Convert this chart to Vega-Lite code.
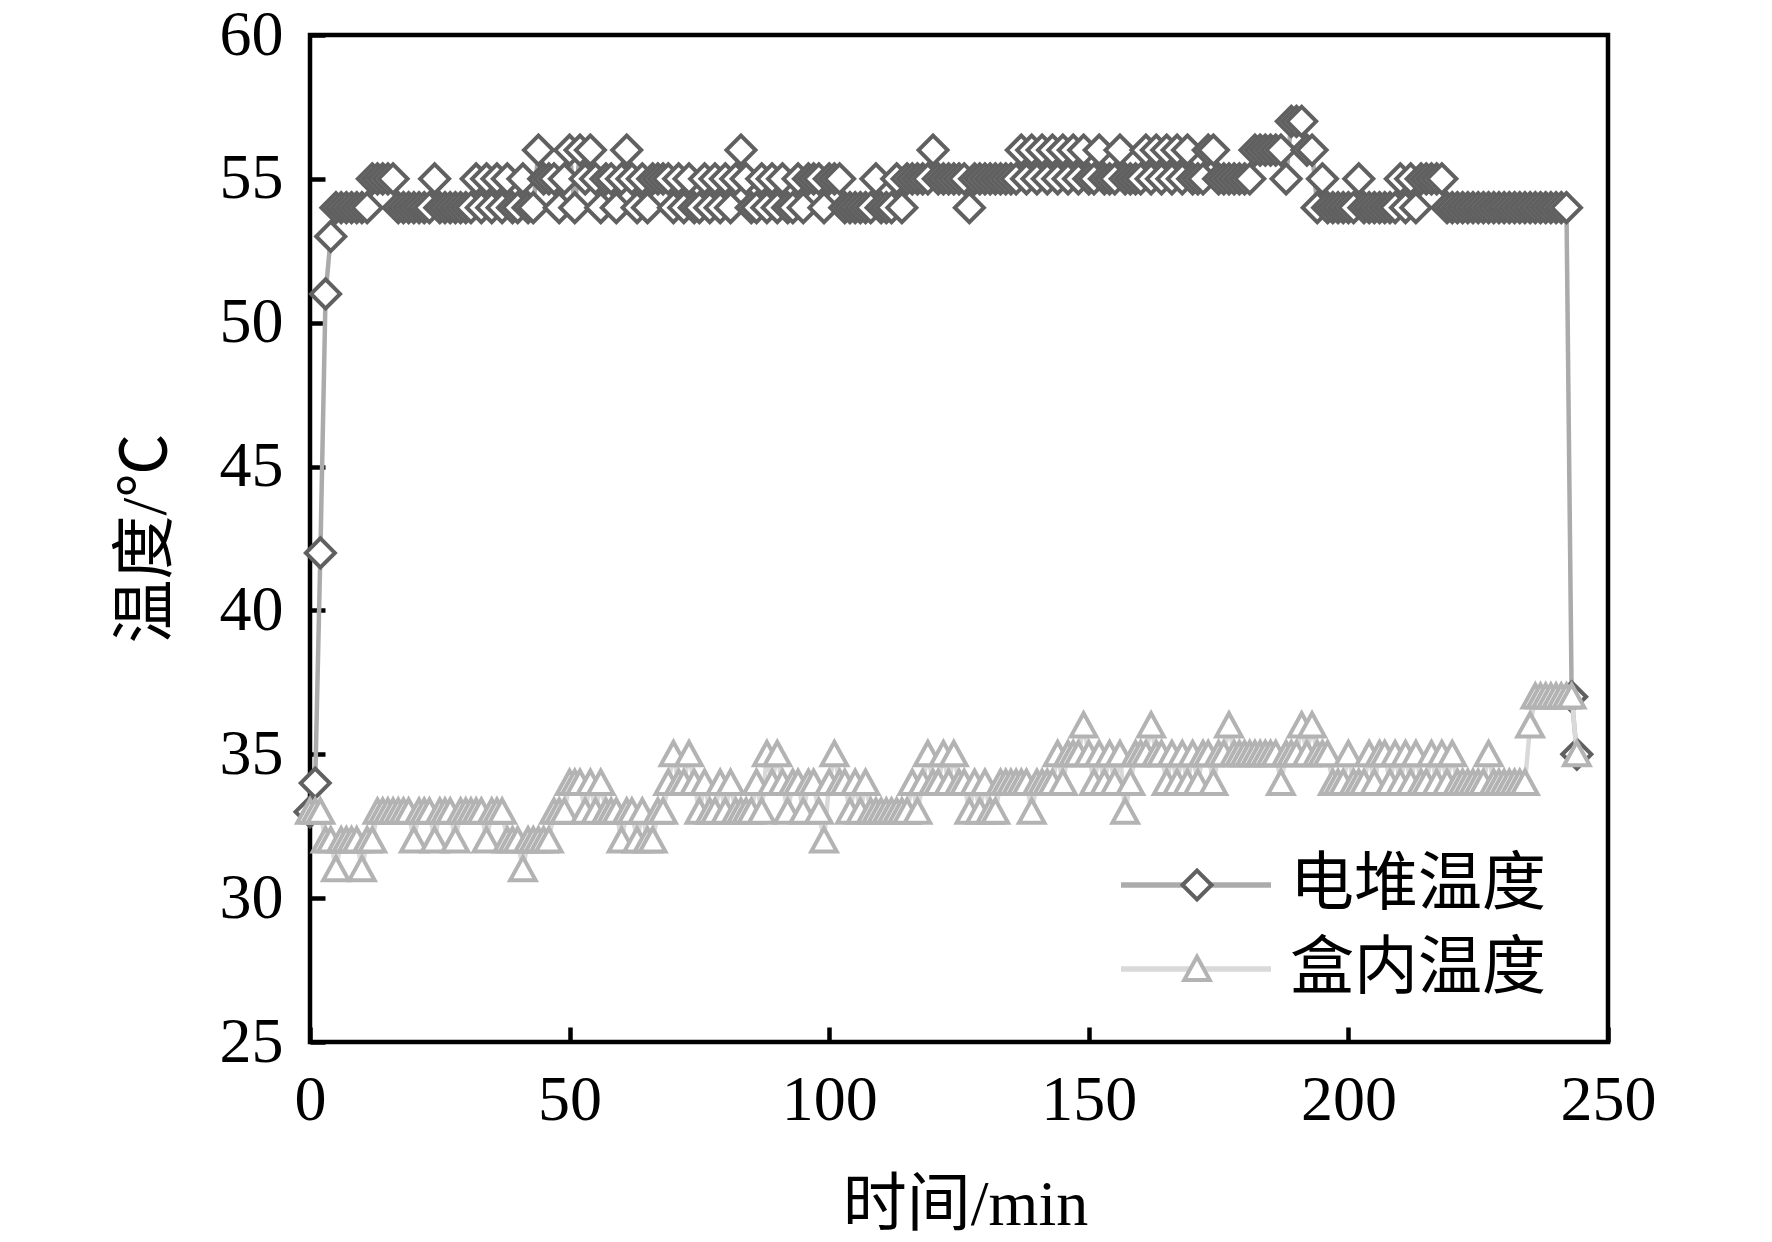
{
"$schema": "https://vega.github.io/schema/vega-lite/v6.json",
"width": 1298, "height": 1007,
"autosize": {"type": "none"},
"padding": {"left": 310, "top": 35, "right": 164, "bottom": 200},
"background": "white",
"config": {"view": {"stroke": "black", "strokeWidth": 4.5}, "font": "Liberation Serif, Noto Sans CJK SC"},
"datasets": {
"stack": [
{"t":0,"v":33,"s":"电堆温度"},{"t":1,"v":34,"s":"电堆温度"},{"t":2,"v":42,"s":"电堆温度"},{"t":3,"v":51,"s":"电堆温度"},{"t":4,"v":53,"s":"电堆温度"},
{"t":5,"v":54,"s":"电堆温度"},{"t":6,"v":54,"s":"电堆温度"},{"t":7,"v":54,"s":"电堆温度"},{"t":8,"v":54,"s":"电堆温度"},{"t":9,"v":54,"s":"电堆温度"},
{"t":10,"v":54,"s":"电堆温度"},{"t":11,"v":54,"s":"电堆温度"},{"t":12,"v":55,"s":"电堆温度"},{"t":13,"v":55,"s":"电堆温度"},{"t":14,"v":55,"s":"电堆温度"},
{"t":15,"v":55,"s":"电堆温度"},{"t":16,"v":55,"s":"电堆温度"},{"t":17,"v":54,"s":"电堆温度"},{"t":18,"v":54,"s":"电堆温度"},{"t":19,"v":54,"s":"电堆温度"},
{"t":20,"v":54,"s":"电堆温度"},{"t":21,"v":54,"s":"电堆温度"},{"t":22,"v":54,"s":"电堆温度"},{"t":23,"v":54,"s":"电堆温度"},{"t":24,"v":55,"s":"电堆温度"},
{"t":25,"v":54,"s":"电堆温度"},{"t":26,"v":54,"s":"电堆温度"},{"t":27,"v":54,"s":"电堆温度"},{"t":28,"v":54,"s":"电堆温度"},{"t":29,"v":54,"s":"电堆温度"},
{"t":30,"v":54,"s":"电堆温度"},{"t":31,"v":54,"s":"电堆温度"},{"t":32,"v":55,"s":"电堆温度"},{"t":33,"v":54,"s":"电堆温度"},{"t":34,"v":55,"s":"电堆温度"},
{"t":35,"v":54,"s":"电堆温度"},{"t":36,"v":55,"s":"电堆温度"},{"t":37,"v":54,"s":"电堆温度"},{"t":38,"v":55,"s":"电堆温度"},{"t":39,"v":54,"s":"电堆温度"},
{"t":40,"v":54,"s":"电堆温度"},{"t":41,"v":55,"s":"电堆温度"},{"t":42,"v":54,"s":"电堆温度"},{"t":43,"v":54,"s":"电堆温度"},{"t":44,"v":56,"s":"电堆温度"},
{"t":45,"v":55,"s":"电堆温度"},{"t":46,"v":55,"s":"电堆温度"},{"t":47,"v":55,"s":"电堆温度"},{"t":48,"v":54,"s":"电堆温度"},{"t":49,"v":55,"s":"电堆温度"},
{"t":50,"v":56,"s":"电堆温度"},{"t":51,"v":54,"s":"电堆温度"},{"t":52,"v":56,"s":"电堆温度"},{"t":53,"v":55,"s":"电堆温度"},{"t":54,"v":56,"s":"电堆温度"},
{"t":55,"v":55,"s":"电堆温度"},{"t":56,"v":54,"s":"电堆温度"},{"t":57,"v":55,"s":"电堆温度"},{"t":58,"v":55,"s":"电堆温度"},{"t":59,"v":54,"s":"电堆温度"},
{"t":60,"v":55,"s":"电堆温度"},{"t":61,"v":56,"s":"电堆温度"},{"t":62,"v":55,"s":"电堆温度"},{"t":63,"v":54,"s":"电堆温度"},{"t":64,"v":55,"s":"电堆温度"},
{"t":65,"v":54,"s":"电堆温度"},{"t":66,"v":55,"s":"电堆温度"},{"t":67,"v":55,"s":"电堆温度"},{"t":68,"v":55,"s":"电堆温度"},{"t":69,"v":55,"s":"电堆温度"},
{"t":70,"v":54,"s":"电堆温度"},{"t":71,"v":55,"s":"电堆温度"},{"t":72,"v":54,"s":"电堆温度"},{"t":73,"v":55,"s":"电堆温度"},{"t":74,"v":54,"s":"电堆温度"},
{"t":75,"v":54,"s":"电堆温度"},{"t":76,"v":55,"s":"电堆温度"},{"t":77,"v":54,"s":"电堆温度"},{"t":78,"v":55,"s":"电堆温度"},{"t":79,"v":54,"s":"电堆温度"},
{"t":80,"v":55,"s":"电堆温度"},{"t":81,"v":54,"s":"电堆温度"},{"t":82,"v":55,"s":"电堆温度"},{"t":83,"v":56,"s":"电堆温度"},{"t":84,"v":55,"s":"电堆温度"},
{"t":85,"v":54,"s":"电堆温度"},{"t":86,"v":54,"s":"电堆温度"},{"t":87,"v":55,"s":"电堆温度"},{"t":88,"v":54,"s":"电堆温度"},{"t":89,"v":55,"s":"电堆温度"},
{"t":90,"v":54,"s":"电堆温度"},{"t":91,"v":55,"s":"电堆温度"},{"t":92,"v":54,"s":"电堆温度"},{"t":93,"v":54,"s":"电堆温度"},{"t":94,"v":55,"s":"电堆温度"},
{"t":95,"v":54,"s":"电堆温度"},{"t":96,"v":55,"s":"电堆温度"},{"t":97,"v":55,"s":"电堆温度"},{"t":98,"v":55,"s":"电堆温度"},{"t":99,"v":54,"s":"电堆温度"},
{"t":100,"v":55,"s":"电堆温度"},{"t":101,"v":55,"s":"电堆温度"},{"t":102,"v":55,"s":"电堆温度"},{"t":103,"v":54,"s":"电堆温度"},{"t":104,"v":54,"s":"电堆温度"},
{"t":105,"v":54,"s":"电堆温度"},{"t":106,"v":54,"s":"电堆温度"},{"t":107,"v":54,"s":"电堆温度"},{"t":108,"v":54,"s":"电堆温度"},{"t":109,"v":55,"s":"电堆温度"},
{"t":110,"v":54,"s":"电堆温度"},{"t":111,"v":54,"s":"电堆温度"},{"t":112,"v":54,"s":"电堆温度"},{"t":113,"v":55,"s":"电堆温度"},{"t":114,"v":54,"s":"电堆温度"},
{"t":115,"v":55,"s":"电堆温度"},{"t":116,"v":55,"s":"电堆温度"},{"t":117,"v":55,"s":"电堆温度"},{"t":118,"v":55,"s":"电堆温度"},{"t":119,"v":55,"s":"电堆温度"},
{"t":120,"v":56,"s":"电堆温度"},{"t":121,"v":55,"s":"电堆温度"},{"t":122,"v":55,"s":"电堆温度"},{"t":123,"v":55,"s":"电堆温度"},{"t":124,"v":55,"s":"电堆温度"},
{"t":125,"v":55,"s":"电堆温度"},{"t":126,"v":55,"s":"电堆温度"},{"t":127,"v":54,"s":"电堆温度"},{"t":128,"v":55,"s":"电堆温度"},{"t":129,"v":55,"s":"电堆温度"},
{"t":130,"v":55,"s":"电堆温度"},{"t":131,"v":55,"s":"电堆温度"},{"t":132,"v":55,"s":"电堆温度"},{"t":133,"v":55,"s":"电堆温度"},{"t":134,"v":55,"s":"电堆温度"},
{"t":135,"v":55,"s":"电堆温度"},{"t":136,"v":55,"s":"电堆温度"},{"t":137,"v":56,"s":"电堆温度"},{"t":138,"v":55,"s":"电堆温度"},{"t":139,"v":56,"s":"电堆温度"},
{"t":140,"v":55,"s":"电堆温度"},{"t":141,"v":56,"s":"电堆温度"},{"t":142,"v":55,"s":"电堆温度"},{"t":143,"v":56,"s":"电堆温度"},{"t":144,"v":55,"s":"电堆温度"},
{"t":145,"v":56,"s":"电堆温度"},{"t":146,"v":55,"s":"电堆温度"},{"t":147,"v":56,"s":"电堆温度"},{"t":148,"v":55,"s":"电堆温度"},{"t":149,"v":56,"s":"电堆温度"},
{"t":150,"v":55,"s":"电堆温度"},{"t":151,"v":55,"s":"电堆温度"},{"t":152,"v":56,"s":"电堆温度"},{"t":153,"v":55,"s":"电堆温度"},{"t":154,"v":55,"s":"电堆温度"},
{"t":155,"v":55,"s":"电堆温度"},{"t":156,"v":56,"s":"电堆温度"},{"t":157,"v":55,"s":"电堆温度"},{"t":158,"v":55,"s":"电堆温度"},{"t":159,"v":55,"s":"电堆温度"},
{"t":160,"v":55,"s":"电堆温度"},{"t":161,"v":56,"s":"电堆温度"},{"t":162,"v":55,"s":"电堆温度"},{"t":163,"v":56,"s":"电堆温度"},{"t":164,"v":55,"s":"电堆温度"},
{"t":165,"v":56,"s":"电堆温度"},{"t":166,"v":55,"s":"电堆温度"},{"t":167,"v":56,"s":"电堆温度"},{"t":168,"v":55,"s":"电堆温度"},{"t":169,"v":56,"s":"电堆温度"},
{"t":170,"v":55,"s":"电堆温度"},{"t":171,"v":55,"s":"电堆温度"},{"t":172,"v":55,"s":"电堆温度"},{"t":173,"v":56,"s":"电堆温度"},{"t":174,"v":56,"s":"电堆温度"},
{"t":175,"v":55,"s":"电堆温度"},{"t":176,"v":55,"s":"电堆温度"},{"t":177,"v":55,"s":"电堆温度"},{"t":178,"v":55,"s":"电堆温度"},{"t":179,"v":55,"s":"电堆温度"},
{"t":180,"v":55,"s":"电堆温度"},{"t":181,"v":55,"s":"电堆温度"},{"t":182,"v":56,"s":"电堆温度"},{"t":183,"v":56,"s":"电堆温度"},{"t":184,"v":56,"s":"电堆温度"},
{"t":185,"v":56,"s":"电堆温度"},{"t":186,"v":56,"s":"电堆温度"},{"t":187,"v":56,"s":"电堆温度"},{"t":188,"v":55,"s":"电堆温度"},{"t":189,"v":57,"s":"电堆温度"},
{"t":190,"v":57,"s":"电堆温度"},{"t":191,"v":57,"s":"电堆温度"},{"t":192,"v":56,"s":"电堆温度"},{"t":193,"v":56,"s":"电堆温度"},{"t":194,"v":54,"s":"电堆温度"},
{"t":195,"v":55,"s":"电堆温度"},{"t":196,"v":54,"s":"电堆温度"},{"t":197,"v":54,"s":"电堆温度"},{"t":198,"v":54,"s":"电堆温度"},{"t":199,"v":54,"s":"电堆温度"},
{"t":200,"v":54,"s":"电堆温度"},{"t":201,"v":54,"s":"电堆温度"},{"t":202,"v":55,"s":"电堆温度"},{"t":203,"v":54,"s":"电堆温度"},{"t":204,"v":54,"s":"电堆温度"},
{"t":205,"v":54,"s":"电堆温度"},{"t":206,"v":54,"s":"电堆温度"},{"t":207,"v":54,"s":"电堆温度"},{"t":208,"v":54,"s":"电堆温度"},{"t":209,"v":54,"s":"电堆温度"},
{"t":210,"v":55,"s":"电堆温度"},{"t":211,"v":54,"s":"电堆温度"},{"t":212,"v":55,"s":"电堆温度"},{"t":213,"v":54,"s":"电堆温度"},{"t":214,"v":55,"s":"电堆温度"},
{"t":215,"v":55,"s":"电堆温度"},{"t":216,"v":55,"s":"电堆温度"},{"t":217,"v":55,"s":"电堆温度"},{"t":218,"v":55,"s":"电堆温度"},{"t":219,"v":54,"s":"电堆温度"},
{"t":220,"v":54,"s":"电堆温度"},{"t":221,"v":54,"s":"电堆温度"},{"t":222,"v":54,"s":"电堆温度"},{"t":223,"v":54,"s":"电堆温度"},{"t":224,"v":54,"s":"电堆温度"},
{"t":225,"v":54,"s":"电堆温度"},{"t":226,"v":54,"s":"电堆温度"},{"t":227,"v":54,"s":"电堆温度"},{"t":228,"v":54,"s":"电堆温度"},{"t":229,"v":54,"s":"电堆温度"},
{"t":230,"v":54,"s":"电堆温度"},{"t":231,"v":54,"s":"电堆温度"},{"t":232,"v":54,"s":"电堆温度"},{"t":233,"v":54,"s":"电堆温度"},{"t":234,"v":54,"s":"电堆温度"},
{"t":235,"v":54,"s":"电堆温度"},{"t":236,"v":54,"s":"电堆温度"},{"t":237,"v":54,"s":"电堆温度"},{"t":238,"v":54,"s":"电堆温度"},{"t":239,"v":54,"s":"电堆温度"},
{"t":240,"v":54,"s":"电堆温度"},{"t":241,"v":54,"s":"电堆温度"},{"t":242,"v":54,"s":"电堆温度"},{"t":243,"v":37,"s":"电堆温度"},{"t":244,"v":35,"s":"电堆温度"}
],
"box": [
{"t":0,"v":33,"s":"盒内温度"},{"t":1,"v":33,"s":"盒内温度"},{"t":2,"v":33,"s":"盒内温度"},{"t":3,"v":32,"s":"盒内温度"},{"t":4,"v":32,"s":"盒内温度"},
{"t":5,"v":31,"s":"盒内温度"},{"t":6,"v":32,"s":"盒内温度"},{"t":7,"v":32,"s":"盒内温度"},{"t":8,"v":32,"s":"盒内温度"},{"t":9,"v":32,"s":"盒内温度"},
{"t":10,"v":31,"s":"盒内温度"},{"t":11,"v":32,"s":"盒内温度"},{"t":12,"v":32,"s":"盒内温度"},{"t":13,"v":33,"s":"盒内温度"},{"t":14,"v":33,"s":"盒内温度"},
{"t":15,"v":33,"s":"盒内温度"},{"t":16,"v":33,"s":"盒内温度"},{"t":17,"v":33,"s":"盒内温度"},{"t":18,"v":33,"s":"盒内温度"},{"t":19,"v":33,"s":"盒内温度"},
{"t":20,"v":32,"s":"盒内温度"},{"t":21,"v":33,"s":"盒内温度"},{"t":22,"v":33,"s":"盒内温度"},{"t":23,"v":33,"s":"盒内温度"},{"t":24,"v":32,"s":"盒内温度"},
{"t":25,"v":33,"s":"盒内温度"},{"t":26,"v":33,"s":"盒内温度"},{"t":27,"v":33,"s":"盒内温度"},{"t":28,"v":32,"s":"盒内温度"},{"t":29,"v":33,"s":"盒内温度"},
{"t":30,"v":33,"s":"盒内温度"},{"t":31,"v":33,"s":"盒内温度"},{"t":32,"v":33,"s":"盒内温度"},{"t":33,"v":33,"s":"盒内温度"},{"t":34,"v":32,"s":"盒内温度"},
{"t":35,"v":33,"s":"盒内温度"},{"t":36,"v":33,"s":"盒内温度"},{"t":37,"v":33,"s":"盒内温度"},{"t":38,"v":32,"s":"盒内温度"},{"t":39,"v":32,"s":"盒内温度"},
{"t":40,"v":32,"s":"盒内温度"},{"t":41,"v":31,"s":"盒内温度"},{"t":42,"v":32,"s":"盒内温度"},{"t":43,"v":32,"s":"盒内温度"},{"t":44,"v":32,"s":"盒内温度"},
{"t":45,"v":32,"s":"盒内温度"},{"t":46,"v":32,"s":"盒内温度"},{"t":47,"v":33,"s":"盒内温度"},{"t":48,"v":33,"s":"盒内温度"},{"t":49,"v":33,"s":"盒内温度"},
{"t":50,"v":34,"s":"盒内温度"},{"t":51,"v":34,"s":"盒内温度"},{"t":52,"v":34,"s":"盒内温度"},{"t":53,"v":33,"s":"盒内温度"},{"t":54,"v":34,"s":"盒内温度"},
{"t":55,"v":33,"s":"盒内温度"},{"t":56,"v":34,"s":"盒内温度"},{"t":57,"v":33,"s":"盒内温度"},{"t":58,"v":33,"s":"盒内温度"},{"t":59,"v":33,"s":"盒内温度"},
{"t":60,"v":32,"s":"盒内温度"},{"t":61,"v":33,"s":"盒内温度"},{"t":62,"v":33,"s":"盒内温度"},{"t":63,"v":32,"s":"盒内温度"},{"t":64,"v":33,"s":"盒内温度"},
{"t":65,"v":32,"s":"盒内温度"},{"t":66,"v":32,"s":"盒内温度"},{"t":67,"v":33,"s":"盒内温度"},{"t":68,"v":33,"s":"盒内温度"},{"t":69,"v":34,"s":"盒内温度"},
{"t":70,"v":35,"s":"盒内温度"},{"t":71,"v":34,"s":"盒内温度"},{"t":72,"v":34,"s":"盒内温度"},{"t":73,"v":35,"s":"盒内温度"},{"t":74,"v":34,"s":"盒内温度"},
{"t":75,"v":33,"s":"盒内温度"},{"t":76,"v":34,"s":"盒内温度"},{"t":77,"v":33,"s":"盒内温度"},{"t":78,"v":33,"s":"盒内温度"},{"t":79,"v":34,"s":"盒内温度"},
{"t":80,"v":33,"s":"盒内温度"},{"t":81,"v":34,"s":"盒内温度"},{"t":82,"v":33,"s":"盒内温度"},{"t":83,"v":33,"s":"盒内温度"},{"t":84,"v":33,"s":"盒内温度"},
{"t":85,"v":33,"s":"盒内温度"},{"t":86,"v":34,"s":"盒内温度"},{"t":87,"v":33,"s":"盒内温度"},{"t":88,"v":35,"s":"盒内温度"},{"t":89,"v":34,"s":"盒内温度"},
{"t":90,"v":35,"s":"盒内温度"},{"t":91,"v":34,"s":"盒内温度"},{"t":92,"v":33,"s":"盒内温度"},{"t":93,"v":34,"s":"盒内温度"},{"t":94,"v":34,"s":"盒内温度"},
{"t":95,"v":33,"s":"盒内温度"},{"t":96,"v":34,"s":"盒内温度"},{"t":97,"v":34,"s":"盒内温度"},{"t":98,"v":33,"s":"盒内温度"},{"t":99,"v":32,"s":"盒内温度"},
{"t":100,"v":34,"s":"盒内温度"},{"t":101,"v":35,"s":"盒内温度"},{"t":102,"v":34,"s":"盒内温度"},{"t":103,"v":34,"s":"盒内温度"},{"t":104,"v":33,"s":"盒内温度"},
{"t":105,"v":34,"s":"盒内温度"},{"t":106,"v":33,"s":"盒内温度"},{"t":107,"v":34,"s":"盒内温度"},{"t":108,"v":33,"s":"盒内温度"},{"t":109,"v":33,"s":"盒内温度"},
{"t":110,"v":33,"s":"盒内温度"},{"t":111,"v":33,"s":"盒内温度"},{"t":112,"v":33,"s":"盒内温度"},{"t":113,"v":33,"s":"盒内温度"},{"t":114,"v":33,"s":"盒内温度"},
{"t":115,"v":33,"s":"盒内温度"},{"t":116,"v":34,"s":"盒内温度"},{"t":117,"v":33,"s":"盒内温度"},{"t":118,"v":34,"s":"盒内温度"},{"t":119,"v":35,"s":"盒内温度"},
{"t":120,"v":34,"s":"盒内温度"},{"t":121,"v":34,"s":"盒内温度"},{"t":122,"v":35,"s":"盒内温度"},{"t":123,"v":34,"s":"盒内温度"},{"t":124,"v":35,"s":"盒内温度"},
{"t":125,"v":34,"s":"盒内温度"},{"t":126,"v":34,"s":"盒内温度"},{"t":127,"v":33,"s":"盒内温度"},{"t":128,"v":34,"s":"盒内温度"},{"t":129,"v":33,"s":"盒内温度"},
{"t":130,"v":34,"s":"盒内温度"},{"t":131,"v":33,"s":"盒内温度"},{"t":132,"v":33,"s":"盒内温度"},{"t":133,"v":34,"s":"盒内温度"},{"t":134,"v":34,"s":"盒内温度"},
{"t":135,"v":34,"s":"盒内温度"},{"t":136,"v":34,"s":"盒内温度"},{"t":137,"v":34,"s":"盒内温度"},{"t":138,"v":34,"s":"盒内温度"},{"t":139,"v":33,"s":"盒内温度"},
{"t":140,"v":34,"s":"盒内温度"},{"t":141,"v":34,"s":"盒内温度"},{"t":142,"v":34,"s":"盒内温度"},{"t":143,"v":34,"s":"盒内温度"},{"t":144,"v":35,"s":"盒内温度"},
{"t":145,"v":34,"s":"盒内温度"},{"t":146,"v":35,"s":"盒内温度"},{"t":147,"v":35,"s":"盒内温度"},{"t":148,"v":35,"s":"盒内温度"},{"t":149,"v":36,"s":"盒内温度"},
{"t":150,"v":35,"s":"盒内温度"},{"t":151,"v":34,"s":"盒内温度"},{"t":152,"v":35,"s":"盒内温度"},{"t":153,"v":34,"s":"盒内温度"},{"t":154,"v":35,"s":"盒内温度"},
{"t":155,"v":34,"s":"盒内温度"},{"t":156,"v":35,"s":"盒内温度"},{"t":157,"v":33,"s":"盒内温度"},{"t":158,"v":34,"s":"盒内温度"},{"t":159,"v":35,"s":"盒内温度"},
{"t":160,"v":35,"s":"盒内温度"},{"t":161,"v":35,"s":"盒内温度"},{"t":162,"v":36,"s":"盒内温度"},{"t":163,"v":35,"s":"盒内温度"},{"t":164,"v":35,"s":"盒内温度"},
{"t":165,"v":34,"s":"盒内温度"},{"t":166,"v":35,"s":"盒内温度"},{"t":167,"v":34,"s":"盒内温度"},{"t":168,"v":35,"s":"盒内温度"},{"t":169,"v":34,"s":"盒内温度"},
{"t":170,"v":35,"s":"盒内温度"},{"t":171,"v":34,"s":"盒内温度"},{"t":172,"v":35,"s":"盒内温度"},{"t":173,"v":35,"s":"盒内温度"},{"t":174,"v":34,"s":"盒内温度"},
{"t":175,"v":35,"s":"盒内温度"},{"t":176,"v":35,"s":"盒内温度"},{"t":177,"v":36,"s":"盒内温度"},{"t":178,"v":35,"s":"盒内温度"},{"t":179,"v":35,"s":"盒内温度"},
{"t":180,"v":35,"s":"盒内温度"},{"t":181,"v":35,"s":"盒内温度"},{"t":182,"v":35,"s":"盒内温度"},{"t":183,"v":35,"s":"盒内温度"},{"t":184,"v":35,"s":"盒内温度"},
{"t":185,"v":35,"s":"盒内温度"},{"t":186,"v":35,"s":"盒内温度"},{"t":187,"v":34,"s":"盒内温度"},{"t":188,"v":35,"s":"盒内温度"},{"t":189,"v":35,"s":"盒内温度"},
{"t":190,"v":35,"s":"盒内温度"},{"t":191,"v":36,"s":"盒内温度"},{"t":192,"v":35,"s":"盒内温度"},{"t":193,"v":36,"s":"盒内温度"},{"t":194,"v":35,"s":"盒内温度"},
{"t":195,"v":35,"s":"盒内温度"},{"t":196,"v":35,"s":"盒内温度"},{"t":197,"v":34,"s":"盒内温度"},{"t":198,"v":34,"s":"盒内温度"},{"t":199,"v":34,"s":"盒内温度"},
{"t":200,"v":35,"s":"盒内温度"},{"t":201,"v":34,"s":"盒内温度"},{"t":202,"v":34,"s":"盒内温度"},{"t":203,"v":34,"s":"盒内温度"},{"t":204,"v":35,"s":"盒内温度"},
{"t":205,"v":34,"s":"盒内温度"},{"t":206,"v":35,"s":"盒内温度"},{"t":207,"v":35,"s":"盒内温度"},{"t":208,"v":34,"s":"盒内温度"},{"t":209,"v":35,"s":"盒内温度"},
{"t":210,"v":34,"s":"盒内温度"},{"t":211,"v":35,"s":"盒内温度"},{"t":212,"v":34,"s":"盒内温度"},{"t":213,"v":35,"s":"盒内温度"},{"t":214,"v":34,"s":"盒内温度"},
{"t":215,"v":34,"s":"盒内温度"},{"t":216,"v":35,"s":"盒内温度"},{"t":217,"v":34,"s":"盒内温度"},{"t":218,"v":35,"s":"盒内温度"},{"t":219,"v":34,"s":"盒内温度"},
{"t":220,"v":35,"s":"盒内温度"},{"t":221,"v":34,"s":"盒内温度"},{"t":222,"v":34,"s":"盒内温度"},{"t":223,"v":34,"s":"盒内温度"},{"t":224,"v":34,"s":"盒内温度"},
{"t":225,"v":34,"s":"盒内温度"},{"t":226,"v":34,"s":"盒内温度"},{"t":227,"v":35,"s":"盒内温度"},{"t":228,"v":34,"s":"盒内温度"},{"t":229,"v":34,"s":"盒内温度"},
{"t":230,"v":34,"s":"盒内温度"},{"t":231,"v":34,"s":"盒内温度"},{"t":232,"v":34,"s":"盒内温度"},{"t":233,"v":34,"s":"盒内温度"},{"t":234,"v":34,"s":"盒内温度"},
{"t":235,"v":36,"s":"盒内温度"},{"t":236,"v":37,"s":"盒内温度"},{"t":237,"v":37,"s":"盒内温度"},{"t":238,"v":37,"s":"盒内温度"},{"t":239,"v":37,"s":"盒内温度"},
{"t":240,"v":37,"s":"盒内温度"},{"t":241,"v":37,"s":"盒内温度"},{"t":242,"v":37,"s":"盒内温度"},{"t":243,"v":37,"s":"盒内温度"},{"t":244,"v":35,"s":"盒内温度"}
]
},
"encoding": {
"x": {"field": "t", "type": "quantitative", "scale": {"domain": [0, 250], "nice": false, "zero": false},
 "axis": {"values": [0, 50, 100, 150, 200, 250], "title": "时间/min", "domain": false, "grid": false,
  "tickSize": -15, "tickWidth": 4.5, "tickColor": "black",
  "labelFont": "Liberation Serif", "labelFontSize": 64, "labelColor": "black", "labelPadding": 41, "labelFlush": false, "labelOverlap": false,
  "titleFont": "Liberation Serif, Noto Sans CJK SC", "titleFontSize": 64, "titleFontWeight": "normal", "titleColor": "black",
  "titleX": 655, "titleY": 182, "titleBaseline": "alphabetic", "titleAlign": "center"}},
"y": {"field": "v", "type": "quantitative", "scale": {"domain": [25, 60], "nice": false, "zero": false},
 "axis": {"values": [25, 30, 35, 40, 45, 50, 55, 60], "title": "温度/℃", "domain": false, "grid": false,
  "tickSize": -15, "tickWidth": 4.5, "tickColor": "black",
  "labelFont": "Liberation Serif", "labelFontSize": 64, "labelColor": "black", "labelPadding": 42, "labelOverlap": false, "labelFlush": false,
  "titleFont": "Liberation Serif, Noto Sans CJK SC", "titleFontSize": 64, "titleFontWeight": "normal", "titleColor": "black",
  "titleAngle": -90, "titleX": -145, "titleY": 503, "titleBaseline": "alphabetic", "titleAlign": "center"}}
},
"layer": [
{"data": {"name": "stack"},
 "mark": {"type": "line", "strokeWidth": 4.5},
 "encoding": {"color": {"field": "s", "type": "nominal",
   "scale": {"domain": ["电堆温度", "盒内温度"], "range": ["#ababab", "#d9d9d9"]},
   "legend": {"orient": "none", "legendX": 854, "legendY": 818, "title": null, "padding": 0,
    "symbolType": "M-5,0L5,0", "symbolSize": 900, "symbolStrokeWidth": 5.5,
    "labelFont": "Liberation Serif, Noto Sans CJK SC", "labelFontSize": 64, "labelColor": "black", "labelOffset": 62, "labelLimit": 0, "rowPadding": 20}}}},
{"data": {"name": "stack"},
 "mark": {"type": "point", "fill": "white", "strokeWidth": 4, "size": 841, "opacity": 1},
 "encoding": {
  "shape": {"field": "s", "type": "nominal", "scale": {"range": ["diamond", "M0,-0.85L0.88,0.75L-0.88,0.75Z"]},
   "legend": {"orient": "none", "legendX": 855, "legendY": 818, "title": null, "padding": 0, "symbolSize": 841, "symbolStrokeWidth": 4, "symbolFillColor": "white",
    "labelFont": "Liberation Serif, Noto Sans CJK SC", "labelFontSize": 64, "labelOpacity": 0, "labelOffset": 62, "labelLimit": 0, "rowPadding": 20}},
  "stroke": {"field": "s", "type": "nominal", "scale": {"range": ["#606060", "#b3b3b3"]},
   "legend": {"orient": "none", "legendX": 855, "legendY": 818, "title": null, "padding": 0, "symbolSize": 841, "symbolStrokeWidth": 4, "symbolFillColor": "white",
    "labelFont": "Liberation Serif, Noto Sans CJK SC", "labelFontSize": 64, "labelOpacity": 0, "labelOffset": 62, "labelLimit": 0, "rowPadding": 20}}}},
{"data": {"name": "box"},
 "mark": {"type": "line", "strokeWidth": 4.5},
 "encoding": {"color": {"field": "s", "type": "nominal"}}},
{"data": {"name": "box"},
 "mark": {"type": "point", "fill": "white", "strokeWidth": 4, "size": 841, "opacity": 1},
 "encoding": {"shape": {"field": "s", "type": "nominal"}, "stroke": {"field": "s", "type": "nominal"}}}
]
}
